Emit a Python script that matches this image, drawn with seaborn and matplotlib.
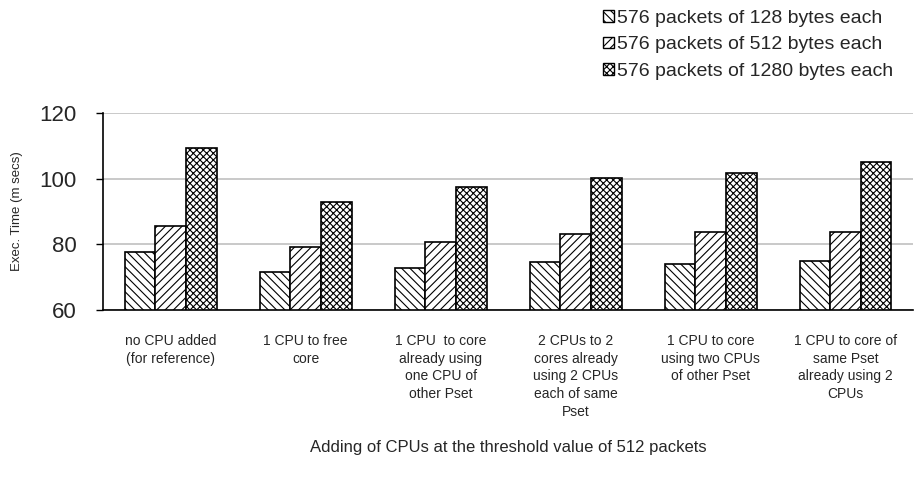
import matplotlib
matplotlib.use("Agg")
import matplotlib.pyplot as plt
import seaborn as sns
import pandas as pd
from matplotlib.patches import Patch

# Scenarios on the x axis
scenarios = [
    "no CPU added\n(for reference)",
    "1 CPU to free\ncore",
    "1 CPU  to core\nalready using\none CPU of\nother Pset",
    "2 CPUs to 2\ncores already\nusing 2 CPUs\neach of same\nPset",
    "1 CPU to core\nusing two CPUs\nof other Pset",
    "1 CPU to core of\nsame Pset\nalready using 2\nCPUs",
]
series_names = [
    "576 packets of 128 bytes each",
    "576 packets of 512 bytes each",
    "576 packets of 1280 bytes each",
]
time_128 = [77.8, 71.5, 72.8, 74.5, 73.9, 75.0]
time_512 = [85.5, 79.1, 80.8, 83.1, 83.7, 83.7]
time_1280 = [109.2, 92.9, 97.6, 100.2, 101.6, 105.0]
y_ticks = [60, 80, 100, 120]

df = pd.DataFrame({
    "scenario": scenarios * 3,
    "series": [series_names[0]] * 6 + [series_names[1]] * 6 + [series_names[2]] * 6,
    "time": time_128 + time_512 + time_1280,
})

sns.set_theme(style="white")
plt.rcParams["font.family"] = ["Liberation Sans", "DejaVu Sans"]
plt.rcParams["hatch.linewidth"] = 0.8

fig = plt.figure(figsize=(9.14, 4.83), dpi=100)
ax = fig.add_axes([0.113, 0.358, 0.886, 0.408])

sns.barplot(data=df, x="scenario", y="time", hue="series", order=scenarios,
            hue_order=series_names, ax=ax, width=0.68,
            palette=["white"] * 3, edgecolor="black", linewidth=1.2,
            legend=False, errorbar=None)

hatches = ["\\\\\\\\", "////", "xxxxx"]
for cont, h in zip(ax.containers, hatches):
    for bar in cont:
        bar.set_hatch(h)
        bar.set_facecolor("white")
        bar.set_edgecolor("black")

ax.set_ylim(60, 120)
ax.set_xlim(-0.5, len(scenarios) - 0.5)
ax.set_yticks(y_ticks)
ax.set_yticklabels([str(v) for v in y_ticks], fontsize=16)
ax.yaxis.grid(True, color="#c0c0c0", linewidth=1.2)
ax.set_axisbelow(True)

ax.set_xticks(range(len(scenarios)))
ax.set_xticklabels(scenarios, fontsize=10, linespacing=1.35, va="top")
ax.set_xticks([i + 0.5 for i in range(len(scenarios) - 1)], minor=True)
ax.tick_params(axis="x", which="major", length=0, pad=17)
ax.tick_params(axis="x", which="minor", length=4, width=1, color="black", direction="out")
ax.tick_params(axis="y", length=5, width=1, color="black", direction="out", left=True, pad=14)

for side in ["top", "right"]:
    ax.spines[side].set_visible(False)
for side in ["left", "bottom"]:
    ax.spines[side].set_color("black")
    ax.spines[side].set_linewidth(1.2)

ax.set_ylabel("Exec. Time (m secs)", fontsize=9.5, labelpad=12)
ax.set_xlabel("Adding of CPUs at the threshold value of 512 packets", fontsize=12, labelpad=15)

handles = [Patch(facecolor="white", edgecolor="black", hatch=h, label=n)
           for h, n in zip(hatches, series_names)]
fig.legend(handles=handles, loc="upper left", bbox_to_anchor=(0.645, 1.008),
           frameon=False, fontsize=14, handlelength=0.55, handleheight=0.55,
           handletextpad=0.15, labelspacing=0.5, borderaxespad=0.3)

fig.savefig("out.png", dpi=100)
